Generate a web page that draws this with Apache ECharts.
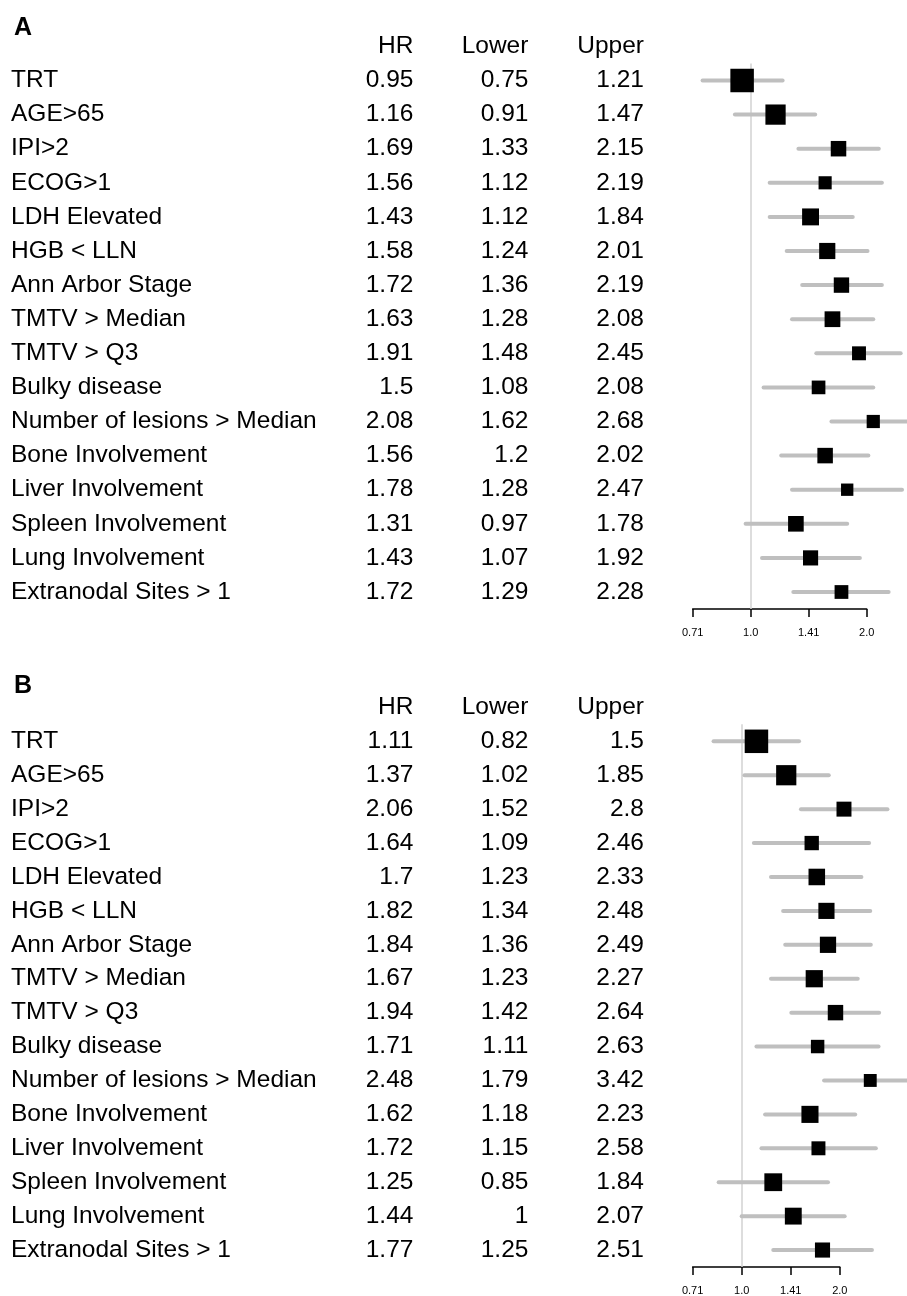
<!DOCTYPE html>
<html>
<head>
<meta charset="utf-8">
<script src="https://cdn.jsdelivr.net/npm/echarts@6/dist/echarts.min.js"></script>
<style>
  html, body { margin: 0; padding: 0; background: #ffffff; }
  #chart { width: 907px; height: 1296px; }
</style>
</head>
<body>
<div id="chart"></div>
<script>
// ---------------- data ----------------
const rowLabels = ['TRT', 'AGE>65', 'IPI>2', 'ECOG>1', 'LDH Elevated', 'HGB < LLN',
  'Ann Arbor Stage', 'TMTV > Median', 'TMTV > Q3', 'Bulky disease',
  'Number of lesions > Median', 'Bone Involvement', 'Liver Involvement',
  'Spleen Involvement', 'Lung Involvement', 'Extranodal Sites > 1'];

const headerLabels = ['HR', 'Lower', 'Upper'];
const panelLabels = ['A', 'B'];

const hrA    = [0.95, 1.16, 1.69, 1.56, 1.43, 1.58, 1.72, 1.63, 1.91, 1.5, 2.08, 1.56, 1.78, 1.31, 1.43, 1.72];
const lowerA = [0.75, 0.91, 1.33, 1.12, 1.12, 1.24, 1.36, 1.28, 1.48, 1.08, 1.62, 1.2, 1.28, 0.97, 1.07, 1.29];
const upperA = [1.21, 1.47, 2.15, 2.19, 1.84, 2.01, 2.19, 2.08, 2.45, 2.08, 2.68, 2.02, 2.47, 1.78, 1.92, 2.28];

const hrB    = [1.11, 1.37, 2.06, 1.64, 1.7, 1.82, 1.84, 1.67, 1.94, 1.71, 2.48, 1.62, 1.72, 1.25, 1.44, 1.77];
const lowerB = [0.82, 1.02, 1.52, 1.09, 1.23, 1.34, 1.36, 1.23, 1.42, 1.11, 1.79, 1.18, 1.15, 0.85, 1, 1.25];
const upperB = [1.5, 1.85, 2.8, 2.46, 2.33, 2.48, 2.49, 2.27, 2.64, 2.63, 3.42, 2.23, 2.58, 1.84, 2.07, 2.51];

const tickValues = [0.7071, 1, 1.4142, 2];
const tickLabels = ['0.71', '1.0', '1.41', '2.0'];
const refValue = 1;

// ---------------- layout / style ----------------
const FONT = "'Liberation Sans', Arial, Helvetica, sans-serif";
const FS = 24.5;
const textLeft = 11;
const colRight = [413.4, 528.4, 644];
const rowH = 34.1;
const panels = [
  { hr: hrA, lo: lowerA, up: upperA, left: 692.7, width: 174, top: 63.45, letterY: 28 },
  { hr: hrB, lo: lowerB, up: upperB, left: 692.6, width: 147.2, top: 724.35, letterY: 686 }
];
const gridH = rowH * rowLabels.length;

const grids = [], xAxes = [], yAxes = [], series = [], graphics = [];

panels.forEach((p, pi) => {
  grids.push({ left: p.left, top: p.top, width: p.width, height: gridH });

  xAxes.push({
    type: 'log', logBase: 2, gridIndex: pi,
    min: tickValues[0], max: tickValues[tickValues.length - 1],
    axisLine: { show: true, onZero: false, lineStyle: { color: '#000', width: 1.5 } },
    axisTick: { show: true, inside: false, length: 8, customValues: tickValues,
      lineStyle: { color: '#000', width: 1.5 } },
    axisLabel: { show: true, customValues: tickValues, margin: 18, fontSize: 11,
      fontFamily: FONT, color: '#000',
      formatter: (v) => {
        let best = 0;
        tickValues.forEach((t, i) => { if (Math.abs(t - v) < Math.abs(tickValues[best] - v)) best = i; });
        return tickLabels[best];
      } },
    splitLine: { show: false }, minorTick: { show: false }, minorSplitLine: { show: false }
  });

  const baseY = yAxes.length;
  const cols = [null, p.hr, p.lo, p.up];
  cols.forEach((col, ci) => {
    yAxes.push({
      type: 'category', gridIndex: pi, inverse: true, position: 'left',
      data: rowLabels,
      axisLine: { show: false }, axisTick: { show: false }, splitLine: { show: false },
      axisLabel: {
        show: true, interval: 0, hideOverlap: false,
        fontSize: FS, fontFamily: FONT, color: '#000',
        align: ci === 0 ? 'left' : 'right',
        margin: ci === 0 ? p.left - textLeft : p.left - colRight[ci - 1],
        formatter: ci === 0 ? (v) => v : (v, idx) => String(col[idx])
      }
    });
  });

  // box sizes from CI width (forestplot-style precision weighting)
  const widths = p.up.map((u, i) => u - p.lo[i]);
  const minW = Math.min.apply(null, widths);
  const sizes = widths.map(w => 5.3 + 18.2 * (minW / w));

  // reference line at HR = 1
  series.push({
    type: 'scatter', xAxisIndex: pi, yAxisIndex: baseY, data: [], silent: true, z: 1,
    markLine: {
      z: 1, silent: true, symbol: ['none', 'none'], label: { show: false },
      lineStyle: { color: '#d2d2d2', width: 1.5, type: 'solid' },
      emphasis: { disabled: true },
      data: [{ xAxis: refValue }]
    }
  });

  // CI lines
  series.push({
    type: 'custom', xAxisIndex: pi, yAxisIndex: baseY, clip: false, silent: true, z: 2,
    data: p.lo.map((l, i) => [l, p.up[i], i]),
    encode: { x: [0, 1], y: 2 },
    renderItem: (params, api) => {
      const a = api.coord([api.value(0), api.value(2)]);
      const b = api.coord([api.value(1), api.value(2)]);
      return { type: 'line', shape: { x1: a[0], y1: a[1], x2: b[0], y2: b[1] },
        style: { stroke: '#bfbfbf', lineWidth: 4, lineCap: 'round' } };
    }
  });

  // HR boxes
  series.push({
    type: 'scatter', xAxisIndex: pi, yAxisIndex: baseY, clip: false, silent: true, z: 3,
    symbol: 'rect',
    data: p.hr.map((h, i) => [h, i]),
    symbolSize: (val, params) => sizes[params.dataIndex],
    itemStyle: { color: '#000', opacity: 1 }
  });

  // panel letter and column headers
  graphics.push({ type: 'text', silent: true,
    style: { x: 14, y: p.letterY, text: panelLabels[pi], fill: '#000',
      font: 'bold 25px ' + FONT, align: 'left', verticalAlign: 'middle' } });
  const headY = p.top + rowH / 2 - rowH;
  headerLabels.forEach((h, hi) => {
    graphics.push({ type: 'text', silent: true,
      style: { x: colRight[hi], y: headY, text: h, fill: '#000',
        font: FS + 'px ' + FONT, align: 'right', verticalAlign: 'middle' } });
  });
});

const chart = echarts.init(document.getElementById('chart'), null, { renderer: 'canvas' });
chart.setOption({
  animation: false,
  backgroundColor: '#ffffff',
  grid: grids,
  xAxis: xAxes,
  yAxis: yAxes,
  series: series,
  graphic: graphics
});
</script>
</body>
</html>
